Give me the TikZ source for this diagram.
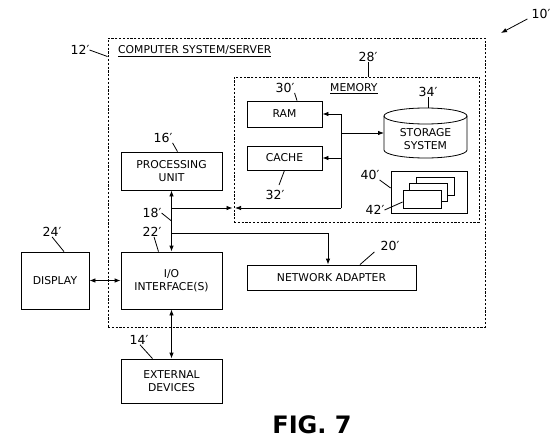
\documentclass[tikz,border=0pt]{standalone}
\usepackage{fontspec}
\setmainfont{DejaVu Sans}
\usetikzlibrary{arrows.meta}

\begin{document}
\begin{tikzpicture}[x=1pt,y=-1pt,
    box/.style={draw,line width=0.8pt,inner sep=0pt,align=center,font=\fontsize{10.8}{12.5}\selectfont},
    dashbox/.style={draw,line width=0.9pt,dash pattern=on 2.2pt off 1.6pt,inner sep=0pt},
    lbl/.style={inner sep=0pt,font=\fontsize{12.5}{14}\selectfont},
    lead/.style={line width=0.8pt},
    bus/.style={line width=0.8pt,-{Latex[length=6pt,width=4.5pt]}},
    >={Latex[length=6pt,width=4.5pt]}]
  \useasboundingbox (0,0) rectangle (559,441);
  % system and memory
  \node[dashbox,minimum width=377pt,minimum height=289pt] (sys) at (296.5,182.5) {};
  \node[dashbox,minimum width=245pt,minimum height=145pt] (mem) at (356.5,149.5) {};
  \node[anchor=west,inner sep=0pt,font=\fontsize{10.8}{12}\selectfont] (systxt) at (118,51) {\underline{COMPUTER SYSTEM/SERVER}};
  \node[anchor=west,inner sep=0pt,font=\fontsize{10.8}{12}\selectfont] (memtxt) at (330,89) {\underline{MEMORY}};
  % boxes
  \node[box,minimum width=101pt,minimum height=38pt] (proc) at (171.5,171) {PROCESSING\\UNIT};
  \node[box,minimum width=101pt,minimum height=57pt] (io) at (171.5,280.5) {I/O\\INTERFACE(S)};
  \node[box,minimum width=68pt,minimum height=57pt] (disp) at (55,280.5) {DISPLAY};
  \node[box,minimum width=101pt,minimum height=44pt] (ext) at (171.5,381) {EXTERNAL\\DEVICES};
  \node[box,minimum width=75pt,minimum height=26pt] (ram) at (284.5,114) {RAM};
  \node[box,minimum width=75pt,minimum height=24pt] (cache) at (284.5,158) {CACHE};
  \node[box,minimum width=169pt,minimum height=25pt] (net) at (331.5,277.5) {NETWORK ADAPTER};
  \node[box,minimum width=76pt,minimum height=42pt] (cards) at (429,192) {};
  \foreach \dx/\n in {13/c3,6.5/c2,0/c1}
    \node[box,fill=white,minimum width=38pt,minimum height=18pt] (\n) at (422+\dx,199-\dx) {};
  % storage
  \draw[lead] (384,116) -- (384,150) arc[start angle=180,end angle=0,x radius=41.5,y radius=8] -- (467,116);
  \draw[lead] (425.5,116) ellipse [x radius=41.5,y radius=8];
  \node[box,draw=none] (stor) at (425.5,139) {STORAGE\\SYSTEM};
  \coordinate (stortop) at (425.5,108);
  \coordinate (storleft) at (384,133);
  % bus
  \coordinate (pbus) at (171.5,208);
  \coordinate (mbus) at (341,208);
  \coordinate (nbus) at (171.5,233);
  \coordinate (nturn) at (328,233);
  \coordinate (memin) at (mem.west |- pbus);
  \coordinate (mtop) at (ram.east -| mbus);
  \draw[<->,lead] (proc.south) -- (io.north);
  \draw[bus] (pbus) -- ([xshift=-1pt]memin);
  \draw[bus] (mbus) -- ([xshift=1.5pt]memin);
  \draw[lead] (mbus) -- (mtop);
  \draw[bus] (mtop) -- (ram.east);
  \draw[bus] (cache.east -| mbus) -- (cache.east);
  \draw[bus] (storleft -| mbus) -- (storleft);
  \draw[bus] (nbus) -- (nturn) -- (nturn |- net.north);
  \draw[<->,lead] (disp.east) -- (io.west);
  \draw[<->,lead] (io.south) -- (ext.north);
  % labels
  \node[lbl] (l10) at (541,14) {10′};
  \coordinate (a10) at (501,33);
  \draw[lead,->] ([xshift=-4pt]l10.south west) -- (a10);
  \node[lbl] (l12) at (80,50) {12′};
  \draw[lead] (l12.east) -- ([yshift=-19pt]sys.north west);
  \node[lbl] (l28) at (368,57) {28′};
  \draw[lead] (l28.south) -- (l28.south |- mem.north);
  \node[lbl] (l30) at (285,88) {30′};
  \draw[lead] (l30.south east) -- ([xshift=12.5pt]ram.north);
  \node[lbl] (l32) at (275,195) {32′};
  \draw[lead] ([shift={(4pt,5pt)}]l32.north) -- (cache.south);
  \node[lbl] (l34) at (428,92) {34′};
  \draw[lead] (l34.south) -- (l34.south |- stortop);
  \node[lbl] (l16) at (163,138) {16′};
  \draw[lead] (l16.south east) -- ([xshift=6pt]proc.north);
  \coordinate (b18) at (171.5,221);
  \node[lbl] (l18) at (152,213) {18′};
  \draw[lead] (l18.east) -- (b18);
  \node[lbl] (l22) at (152,232) {22′};
  \draw[lead] ([xshift=2pt]l22.south) -- ([xshift=-13pt]io.north);
  \node[lbl] (l24) at (52,232) {24′};
  \draw[lead] (l24.south) -- ([xshift=9pt]disp.north);
  \node[lbl] (l20) at (390,246) {20′};
  \draw[lead] ([shift={(-6pt,-1pt)}]l20.south west) -- ([xshift=28.5pt]net.north);
  \node[lbl] (l14) at (139,340) {14′};
  \draw[lead] ([xshift=1pt]l14.south) -- ([xshift=-19pt]ext.north);
  \node[lbl] (l40) at (370,175) {40′};
  \draw[lead] (l40.south east) -- ([yshift=4pt]cards.west);
  \node[lbl] (l42) at (375,210) {42′};
  \draw[lead] (l42.east) -- ([yshift=-3pt]c1.west);
  \node[inner sep=0pt,font=\bfseries\fontsize{24}{28}\selectfont] (fig) at (312,425) {FIG. 7};
\end{tikzpicture}
\end{document}
